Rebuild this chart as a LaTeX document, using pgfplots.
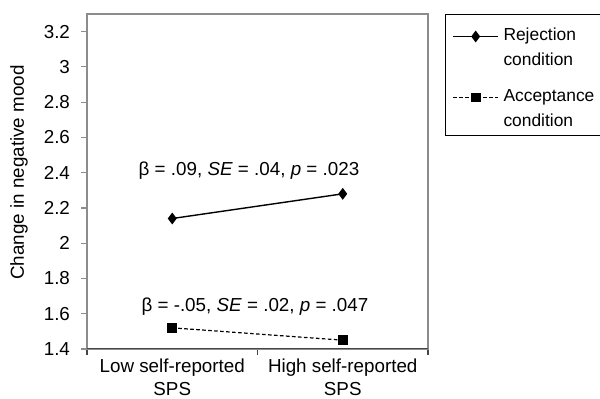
\documentclass[border=0pt]{standalone}
\usepackage{fontspec}
\setmainfont{Liberation Sans}
\usepackage{pgfplots}
\pgfplotsset{compat=1.18}
\definecolor{boxgray}{RGB}{140,140,140}
\definecolor{axdark}{RGB}{70,70,70}
\begin{document}
\begin{tikzpicture}[font=\fontsize{9.4}{11.5}\selectfont]
\useasboundingbox (0,0) rectangle (300pt,199.5pt);
\begin{axis}[
  at={(43.5pt,25pt)}, anchor=south west,
  scale only axis, width=170.5pt, height=167.5pt,
  xmin=0, xmax=2, ymin=1.4, ymax=3.3,
  ytick={1.4,1.6,1.8,2,2.2,2.4,2.6,2.8,3,3.2},
  yticklabels={1.4,1.6,1.8,2,2.2,2.4,2.6,2.8,3,3.2},
  xtick={0,1,2}, xticklabels={},
  extra x ticks={0.5,1.5},
  extra x tick labels={Low self-reported\\SPS, High self-reported\\SPS},
  extra x tick style={major tick length=0pt, tick label style={align=center, yshift=-1.5pt}},
  tick align=outside, major tick length=3pt,
  tick pos=left,
  axis line style={boxgray, line width=0.6pt},
  y tick style={boxgray, line width=0.6pt},
  x tick style={axdark, line width=0.6pt},
  yticklabel style={xshift=-2pt},
  legend cell align=left,
  legend image code/.code={\draw[mark repeat=2,mark phase=2,#1] plot coordinates {(0pt,14.3pt) (11.25pt,14.3pt) (22.5pt,14.3pt)};},
  legend style={at={(rel axis cs:1,1)}, anchor=north west, xshift=8.5pt,
    draw=black, line width=0.5pt, inner xsep=3.5pt, inner ysep=3pt,
    row sep=9.5pt, column sep=2.3pt,
    nodes={inner sep=0pt, anchor=base west, align=left, font=\fontsize{8.7}{11.5}\selectfont}},
]
\draw[axdark, line width=0.7pt] (rel axis cs:0,0) -- (rel axis cs:1,0);
\addplot[black, line width=0.7pt, mark=diamond*, mark size=2.4pt, mark options={solid}]
  coordinates {(0.5,2.14) (1.5,2.28)};
\addlegendentry{\rule{0pt}{9.8pt}Rejection\\[1pt]condition\rule[-3pt]{0pt}{0pt}}
\addplot[black, line width=0.6pt, dash pattern=on 1.8pt off 1.2pt, mark=square*, mark size=2.1pt, mark options={solid}]
  coordinates {(0.5,1.52) (1.5,1.45)};
\addlegendentry{\rule{0pt}{7pt}Acceptance\\[1pt]condition\rule[-4.5pt]{0pt}{0pt}}
\node at (axis cs:0.95,2.413) {β = .09, \textit{SE} = .04, \textit{p} = .023};
\node at (axis cs:0.985,1.638) {β = -.05, \textit{SE} = .02, \textit{p} = .047};
\end{axis}
\node[rotate=90] at (9.5pt,113.25pt) {Change in negative mood};
\end{tikzpicture}
\end{document}
